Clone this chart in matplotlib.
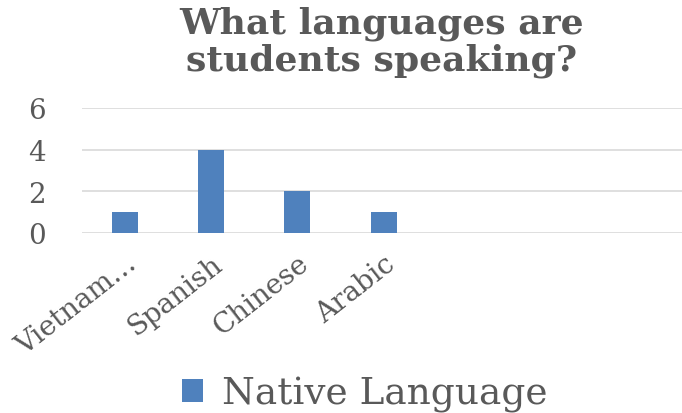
import matplotlib.pyplot as plt
import matplotlib.transforms as mtransforms

# DATA
categories = ['Vietnam…', 'Spanish', 'Chinese', 'Arabic', '', '', '']
counts = [1, 4, 2, 1, 0, 0, 0]
yticks = [0, 2, 4, 6]

textColor = '#595959'
barColor = '#4F81BD'
serif = ['DejaVu Serif']

fig = plt.figure(figsize=(6.82, 4.14), dpi=100)
ax = fig.add_axes([0.12, 0.435, 0.885, 0.302])

# Bars for the languages that have a value
xs = list(range(len(categories)))
ax.bar(xs, counts, width=0.3, color=barColor, label='Native Language', zorder=3)

ax.set_xlim(-0.5, len(categories) - 0.5)
ax.set_ylim(0, 6)
ax.set_yticks(yticks)
ax.set_yticklabels([str(t) for t in yticks], fontsize=20, color=textColor, family=serif)
ax.grid(axis='y', color='#D9D9D9', lw=1.2, zorder=0)
ax.tick_params(axis='y', length=0, pad=26)
for s in ax.spines.values():
    s.set_visible(False)

# Rotated category labels, ending near each tick
ax.set_xticks(xs)
ax.set_xticklabels(categories, rotation=38, ha='right', va='top', rotation_mode='anchor',
                   fontsize=20, color=textColor, family=serif)
offset = mtransforms.ScaledTranslation(0.15, 0.0, fig.dpi_scale_trans)
for lab in ax.get_xticklabels():
    lab.set_transform(lab.get_transform() + offset)
ax.tick_params(axis='x', length=0, pad=12)

# Title centred over the plot area
fig.text(0.559, 0.985, 'What languages are\nstudents speaking?', ha='center', va='top',
         fontsize=26, fontweight='bold', color=textColor, family=serif, linespacing=1.1)

# Legend at the bottom
leg = fig.legend(loc='lower center', bbox_to_anchor=(0.535, -0.08), frameon=False,
                 prop={'family': serif, 'size': 27}, handlelength=0.55, handleheight=0.55,
                 handletextpad=0.5)
for t in leg.get_texts():
    t.set_color(textColor)

fig.savefig('out.png', dpi=100)
